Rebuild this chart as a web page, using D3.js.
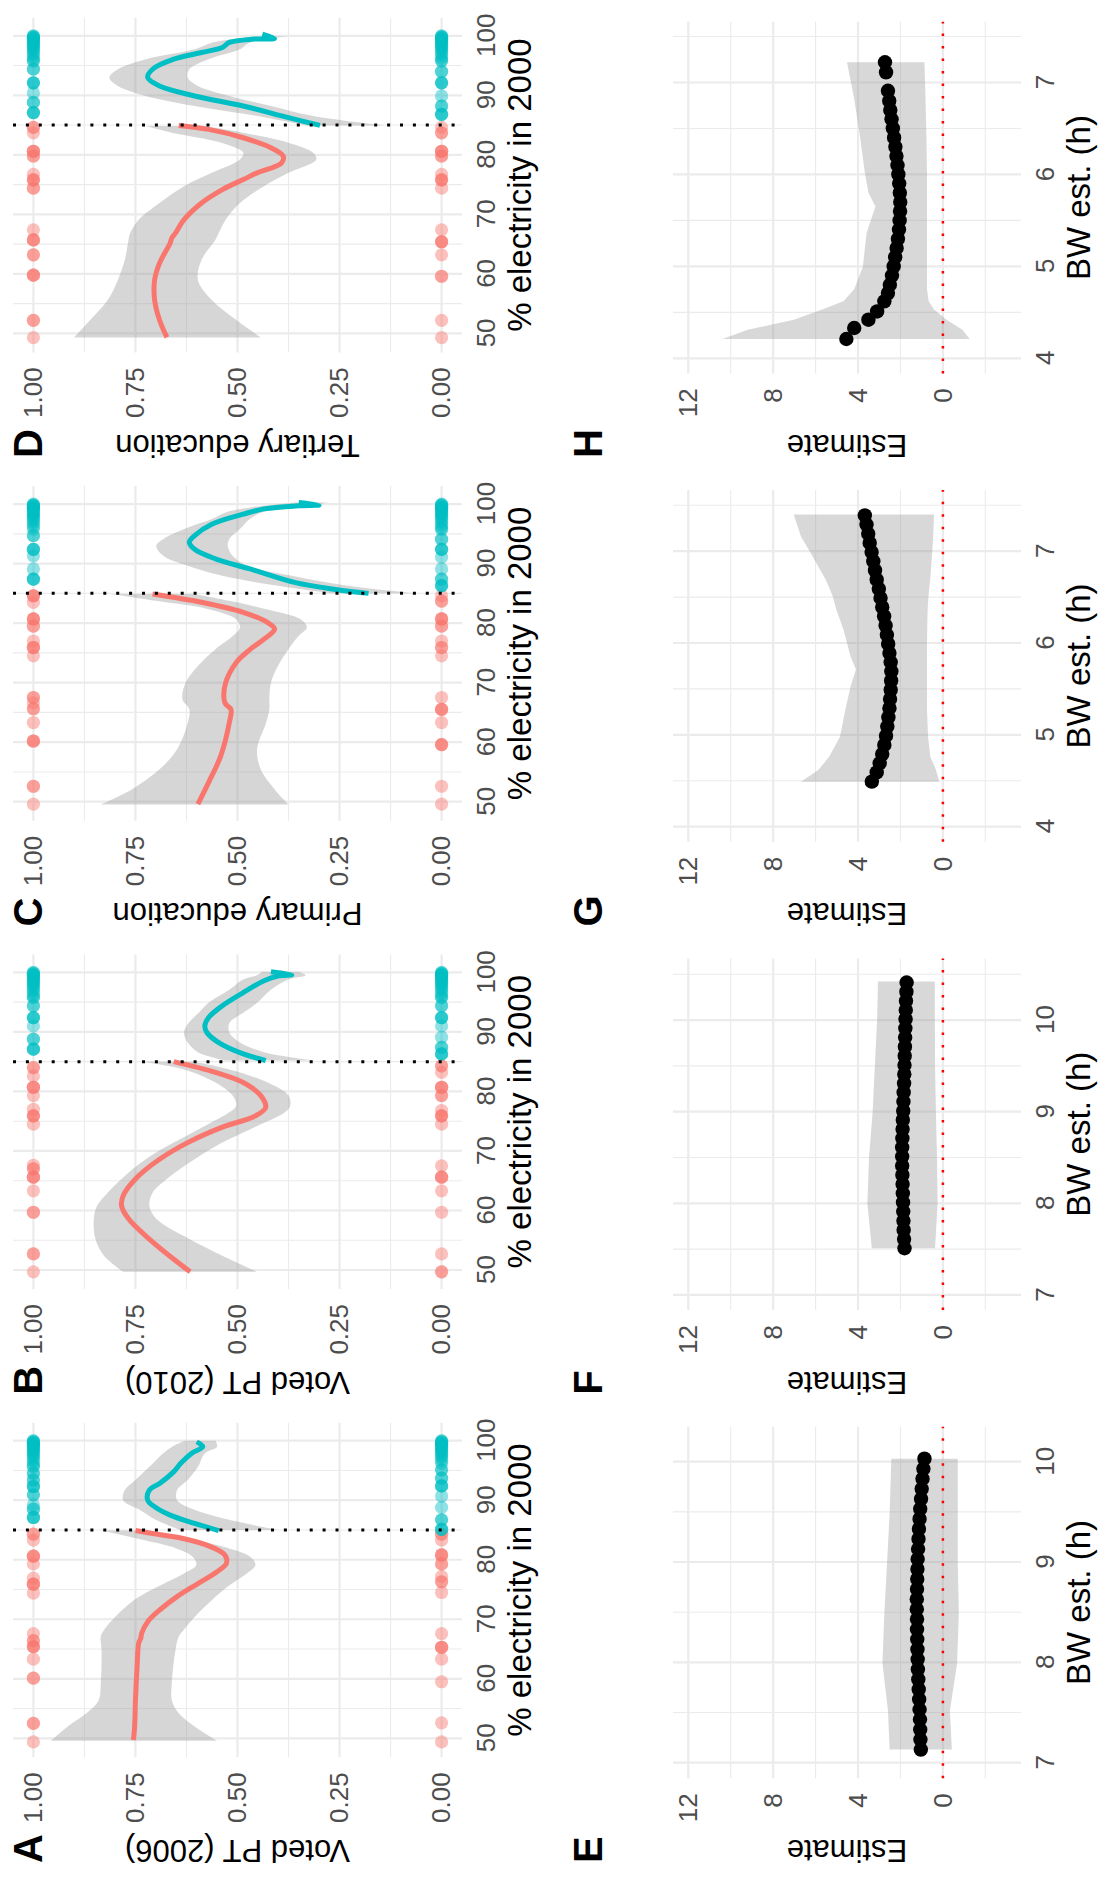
<!DOCTYPE html>
<html>
<head>
<meta charset="utf-8">
<script src="https://cdnjs.cloudflare.com/ajax/libs/d3/7.8.5/d3.min.js"></script>
<style>
  body { margin: 0; background: #fff; }
  svg { display: block; background: #fff; }
  svg text { font-family: "Liberation Sans", Arial, Helvetica, sans-serif; }
</style>
</head>
<body>
<div class="canvas"></div>
<script>
////////////////////////// DATA ///////////////////////////////
// top row: share voting / education around the 85% electricity cutoff
const cutoff = 85;
const rdTicks = [50, 60, 70, 80, 90, 100];
const rdMinor = [55, 65, 75, 85, 95];
const shareTicks = [0, 0.25, 0.5, 0.75, 1];
const shareMinor = [0.125, 0.375, 0.625, 0.875];

// municipalities with almost full coverage, present in every panel at 0 and 1
const tealTail = [96.2, 96.6, 97.0, 97.3, 97.6, 97.9, 98.1, 98.3, 98.5, 98.7, 98.9, 99.1, 99.3, 99.4, 99.5, 99.6, 99.7, 99.8, 99.9, 100.0];

const onesA = [49.4, 52.5, 52.5, 60.1, 60.1, 63.3, 65.4, 65.4, 65.4, 66.4, 66.4, 67.6, 74.4, 75.9, 75.9, 75.9, 76.9, 79.3, 80.6, 80.6, 80.6, 83.3, 84.3, 84.3, 87.1, 87.1, 87.1, 88.5, 88.5, 89.2, 90.9, 90.9, 92.3, 92.3, 92.3, 93.4, 93.4, 94.5, 94.5, 95.7, 95.7];
const zerosA = [49.4, 52.6, 59.5, 63.3, 65.3, 65.3, 65.3, 67.6, 74.5, 76.3, 76.3, 77.2, 79.3, 79.3, 80.8, 80.8, 80.8, 83.3, 84.3, 84.3, 85.1, 85.1, 85.1, 86.7, 86.7, 88.8, 90.7, 92.4, 92.4, 92.4, 93.7, 93.7, 95.1, 95.1];
const onesB = [49.7, 52.7, 52.7, 59.7, 59.7, 63.3, 65.6, 65.6, 65.6, 67.0, 67.0, 67.6, 74.5, 75.9, 75.9, 75.9, 77.0, 79.3, 80.7, 80.7, 80.7, 82.6, 84.0, 84.0, 87.1, 87.1, 87.1, 88.8, 88.8, 91.0, 92.4, 92.4, 92.4, 94.4, 94.4, 95.8, 95.8];
const zerosB = [49.7, 49.7, 52.7, 59.7, 63.3, 65.6, 65.6, 65.6, 67.5, 74.5, 75.9, 75.9, 75.9, 76.8, 79.3, 79.3, 80.7, 80.7, 80.7, 83.2, 84.3, 84.3, 86.3, 86.3, 86.3, 87.4, 87.4, 89.1, 91.0, 92.4, 92.4, 92.4, 94.4, 94.4, 95.8, 95.8];
const onesC = [49.6, 52.6, 52.6, 60.2, 60.2, 60.2, 63.3, 65.6, 65.6, 66.6, 67.5, 67.5, 74.5, 75.9, 75.9, 75.9, 77.0, 79.5, 79.5, 80.7, 80.7, 80.7, 83.5, 84.6, 84.6, 84.6, 87.4, 87.4, 87.4, 89.1, 91.3, 92.4, 92.4, 92.4, 94.7, 94.7, 95.8];
const zerosC = [49.6, 52.6, 59.6, 59.6, 59.6, 63.3, 65.5, 65.5, 65.5, 67.5, 74.5, 75.9, 75.9, 77.0, 79.5, 79.5, 80.7, 80.7, 80.7, 83.7, 83.7, 84.6, 86.3, 86.3, 86.3, 87.4, 87.4, 89.1, 91.1, 92.4, 92.4, 92.4, 94.1, 94.1, 95.8, 95.8];
const onesD = [49.3, 52.2, 52.2, 59.8, 59.8, 59.8, 63.2, 63.2, 65.7, 65.7, 65.7, 67.4, 74.4, 74.4, 75.8, 75.8, 75.8, 76.7, 79.8, 79.8, 80.6, 80.6, 80.6, 83.7, 84.6, 84.6, 87.1, 87.1, 87.1, 88.8, 88.8, 90.4, 92.1, 92.1, 92.1, 94.4, 94.4, 95.8, 95.8];
const zerosD = [49.3, 52.2, 59.6, 59.6, 63.2, 65.4, 65.4, 65.4, 67.4, 74.4, 75.8, 75.8, 75.8, 76.7, 79.8, 79.8, 80.6, 80.6, 80.6, 83.7, 83.7, 84.6, 86.8, 86.8, 86.8, 88.2, 88.2, 89.9, 92.1, 92.1, 92.1, 94.0, 94.0, 95.8, 95.8];

// smooth fits [x, fit] and bands [x, lower, upper]
const fitRedA = [[49.7,.755],[52.0,.752],[56.4,.750],[62.0,.746],[66.0,.742],[66.8,.737],[67.6,.735],[69.6,.720],[71.6,.690],[73.8,.648],[76.0,.597],[78.0,.550],[79.4,.527],[80.8,.531],[82.2,.566],[83.6,.636],[84.4,.708],[84.9,.750]];
const bandRedA = [[49.6,.55,.957],[52.0,.605,.916],[54.2,.644,.870],[56.4,.661,.840],[59.2,.661,.835],[64.8,.652,.833],[67.1,.644,.835],[68.2,.632,.827],[70.4,.605,.800],[73.2,.563,.754],[75.5,.524,.695],[77.7,.477,.631],[79.1,.456,.601],[80.5,.469,.610],[81.9,.520,.650],[83.3,.605,.730],[84.4,.69,.80],[84.9,.733,.835]];
const fitTealA = [[84.9,.546],[86.1,.605],[87.5,.665],[88.9,.703],[90.0,.720],[91.7,.716],[92.8,.691],[94.8,.656],[96.2,.639],[97.9,.612],[99.0,.585],[99.8,.600]];
const bandTealA = [[85.0,.40,.64],[86.7,.52,.70],[88.4,.605,.74],[90.0,.648,.78],[91.7,.648,.776],[93.4,.622,.75],[95.6,.597,.716],[97.9,.58,.682],[99.0,.55,.66],[100.0,.554,.63]];

const fitRedB = [[49.7,.616],[51.8,.656],[55.2,.716],[58.6,.767],[60.8,.784],[62.5,.780],[65.3,.750],[68.6,.691],[71.4,.622],[74.0,.537],[75.9,.456],[77.3,.431],[79.3,.443],[81.5,.486],[83.2,.554],[85.0,.656]];
const bandRedB = [[49.7,.452,.78],[52.4,.537,.827],[55.2,.618,.848],[58.6,.699,.852],[60.8,.716,.844],[63.0,.708,.818],[65.3,.673,.784],[68.6,.605,.725],[71.4,.537,.656],[74.2,.452,.580],[76.5,.384,.52],[77.6,.371,.503],[79.3,.375,.512],[81.5,.426,.554],[83.7,.52,.631],[85.0,.605,.733]];
const fitTealB = [[85.2,.431],[86.3,.486],[88.2,.546],[89.9,.575],[91.0,.580],[92.4,.571],[94.4,.537],[96.6,.486],[98.6,.435],[99.4,.401],[99.6,.367],[100.1,.418]];
const bandTealB = [[85.2,.311,.529],[86.6,.435,.597],[88.2,.494,.622],[89.9,.52,.631],[91.5,.52,.62],[93.2,.486,.595],[94.9,.452,.571],[97.1,.418,.52],[98.8,.375,.486],[99.5,.333,.452],[100.1,.35,.44]];

const fitRedC = [[49.6,.597],[53.2,.571],[57.7,.541],[63.3,.520],[65.5,.516],[66.4,.529],[67.2,.533],[70.0,.529],[73.4,.503],[75.6,.469],[77.3,.435],[79.0,.409],[80.1,.426],[81.8,.486],[83.5,.588],[84.9,.708]];
const bandRedC = [[49.55,.375,.835],[52.07,.409,.759],[55.44,.443,.691],[58.8,.452,.648],[63.28,.430,.622],[65.53,.422,.618],[67.21,.422,.635],[70.01,.418,.627],[72.81,.401,.597],[75.62,.375,.554],[77.86,.350,.511],[79.26,.330,.494],[80.66,.345,.503],[82.34,.430,.571],[83.74,.52,.699],[84.9,.605,.81]];
const fitTealC = [[85.0,.179],[85.7,.264],[86.8,.358],[89.1,.469],[90.8,.554],[92.4,.605],[93.6,.618],[94.7,.605],[96.6,.563],[98.3,.486],[99.2,.435],[99.72,.350],[99.83,.30],[100.28,.350]];
const bandTealC = [[85.03,.068,.273],[86.27,.23,.401],[87.95,.367,.537],[89.63,.477,.622],[91.31,.512,.682],[93.0,.524,.699],[94.11,.52,.682],[95.8,.494,.631],[97.48,.47,.563],[98.6,.44,.529],[99.44,.35,.469],[100.28,.277,.358]];

const fitRedD = [[49.33,.673],[52.25,.691],[55.62,.703],[58.99,.703],[61.80,.691],[65.17,.665],[66.01,.661],[66.85,.652],[69.10,.631],[71.91,.588],[74.16,.537],[75.84,.486],[76.97,.452],[78.65,.392],[79.78,.388],[81.18,.418],[82.87,.486],[84.27,.571],[84.94,.644]];
const bandRedD = [[49.33,.443,.90],[52.25,.503,.861],[55.62,.563,.818],[58.99,.597,.793],[62.36,.588,.776],[65.73,.554,.767],[66.85,.546,.763],[69.10,.529,.742],[71.91,.494,.691],[74.72,.435,.631],[76.97,.375,.563],[79.21,.307,.494],[80.34,.315,.486],[82.02,.375,.54],[83.71,.486,.66],[84.83,.58,.725]];
const fitTealD = [[84.94,.298],[86.24,.375],[88.20,.486],[89.89,.605],[91.57,.691],[92.98,.720],[94.38,.708],[96.07,.656],[97.19,.588],[98.03,.537],[98.88,.520],[99.44,.460],[99.55,.409],[100.28,.439]];
const bandTealD = [[84.94,.141,.333],[86.52,.315,.452],[88.20,.418,.605],[89.89,.52,.725],[91.57,.597,.793],[92.98,.622,.814],[94.38,.618,.793],[96.07,.571,.725],[97.75,.494,.605],[98.88,.469,.56],[99.89,.375,.452]];

// bottom row: estimate by bandwidth
const estTicks = [0, 4, 8, 12];
const estMinor = [-2, 2, 6, 10];

const bwE = [7.13, 7.23, 7.33, 7.43, 7.53, 7.63, 7.73, 7.83, 7.93, 8.03, 8.13, 8.23, 8.33, 8.43, 8.53, 8.63, 8.73, 8.83, 8.93, 9.03, 9.13, 9.23, 9.33, 9.43, 9.53, 9.63, 9.73, 9.83, 9.93, 10.03];
const estE = [1.04, 1.06, 1.07, 1.08, 1.10, 1.12, 1.14, 1.16, 1.18, 1.19, 1.20, 1.21, 1.22, 1.22, 1.23, 1.23, 1.22, 1.21, 1.20, 1.19, 1.17, 1.15, 1.13, 1.10, 1.07, 1.03, 1.00, 0.96, 0.92, 0.87];
const bandE = [[7.13,-0.42,2.51],[7.52,-0.33,2.59],[7.99,-0.67,2.85],[8.49,-0.75,2.76],[9.0,-0.70,2.63],[9.49,-0.70,2.51],[10.03,-0.70,2.43]];

const bwF = [7.51, 7.61, 7.71, 7.81, 7.91, 8.01, 8.11, 8.21, 8.31, 8.41, 8.51, 8.61, 8.71, 8.81, 8.91, 9.01, 9.11, 9.21, 9.31, 9.41, 9.51, 9.61, 9.71, 9.81, 9.91, 10.01, 10.11, 10.21, 10.31, 10.41];
const estF = [1.81, 1.83, 1.85, 1.86, 1.87, 1.88, 1.89, 1.90, 1.91, 1.92, 1.92, 1.92, 1.91, 1.90, 1.89, 1.87, 1.86, 1.85, 1.83, 1.82, 1.81, 1.80, 1.79, 1.78, 1.77, 1.76, 1.75, 1.74, 1.72, 1.71];
const bandF = [[7.51,0.37,3.35],[8.0,0.25,3.56],[8.51,0.28,3.48],[9.0,0.33,3.31],[9.49,0.37,3.21],[10.0,0.38,3.10],[10.42,0.38,3.06]];

const bwG = [4.49, 4.59, 4.69, 4.79, 4.89, 4.99, 5.09, 5.19, 5.29, 5.39, 5.49, 5.59, 5.69, 5.79, 5.89, 5.99, 6.09, 6.19, 6.29, 6.39, 6.49, 6.59, 6.69, 6.79, 6.89, 6.99, 7.09, 7.19, 7.29, 7.39];
const estG = [3.35, 3.12, 2.98, 2.86, 2.76, 2.68, 2.62, 2.57, 2.52, 2.49, 2.46, 2.44, 2.43, 2.46, 2.52, 2.58, 2.64, 2.70, 2.77, 2.86, 2.94, 3.02, 3.12, 3.20, 3.28, 3.36, 3.45, 3.52, 3.60, 3.68];
const bandG = [[4.49,0.17,6.69],[4.62,0.33,5.86],[4.76,0.59,5.36],[4.98,0.70,4.85],[5.27,0.75,4.60],[5.53,0.75,4.35],[5.71,0.75,4.10],[5.85,0.75,4.35],[6.0,0.75,4.52],[6.15,0.74,4.69],[6.36,0.72,5.02],[6.51,0.68,5.19],[6.69,0.60,5.52],[7.0,0.50,6.28],[7.16,0.46,6.69],[7.40,0.42,7.03]];

const bwH = [4.21, 4.33, 4.42, 4.51, 4.62, 4.71, 4.80, 4.90, 5.00, 5.10, 5.20, 5.30, 5.40, 5.50, 5.60, 5.70, 5.80, 5.90, 6.00, 6.10, 6.20, 6.30, 6.40, 6.50, 6.60, 6.70, 6.80, 6.91, 7.11, 7.22];
const estH = [4.55, 4.18, 3.51, 3.10, 2.76, 2.59, 2.50, 2.40, 2.32, 2.25, 2.18, 2.12, 2.07, 2.04, 2.02, 2.01, 2.03, 2.06, 2.10, 2.14, 2.19, 2.24, 2.30, 2.36, 2.42, 2.48, 2.53, 2.59, 2.68, 2.73];
const bandH = [[4.21,-1.26,10.38],[4.31,-0.92,9.20],[4.42,-0.17,7.03],[4.53,0.42,5.69],[4.62,0.67,4.69],[4.75,0.75,4.18],[5.0,0.75,3.77],[5.36,0.75,3.60],[5.65,0.75,3.18],[5.8,0.75,3.51],[6.02,0.75,3.68],[6.45,0.78,3.93],[6.82,0.82,4.18],[7.22,0.87,4.52]];

////////////////////////// LAYOUT ///////////////////////////////
// the figure is drawn upright (1881 x 1102) and then turned a quarter to the left
const figW = 1881, figH = 1102;
const colStep = 468.3;
const red = '#F8766D', teal = '#00BFC4';
const gridCol = '#EBEBEB';

const svg = d3.select('.canvas')
  .append('svg')
  .attr('width', figH)
  .attr('height', figW);

const fig = svg.append('g')
  .attr('transform', `translate(0,${figW}) rotate(-90)`);

const grid = (g, x, y, w, h, xMaj, xMin, yMaj, yMin) => {
  const lines = [
    ...xMin.map(v => ({ v, dir: 'x', size: 1.1 })),
    ...yMin.map(v => ({ v, dir: 'y', size: 1.1 })),
    ...xMaj.map(v => ({ v, dir: 'x', size: 2.2 })),
    ...yMaj.map(v => ({ v, dir: 'y', size: 2.2 }))
  ];
  g.append('g').selectAll('line')
    .data(lines)
    .join('line')
    .attr('x1', d => d.dir === 'x' ? x(d.v) : 0)
    .attr('x2', d => d.dir === 'x' ? x(d.v) : w)
    .attr('y1', d => d.dir === 'y' ? y(d.v) : 0)
    .attr('y2', d => d.dir === 'y' ? y(d.v) : h)
    .attr('stroke', gridCol)
    .attr('stroke-width', d => d.size);
};

const axes = (g, x, y, h, xTicks, yTicks, xFmt, yFmt) => {
  const ax = g.append('g')
    .attr('transform', `translate(0,${h})`)
    .call(d3.axisBottom(x).tickValues(xTicks).tickFormat(xFmt).tickSize(0).tickPadding(15));
  const ay = g.append('g')
    .call(d3.axisLeft(y).tickValues(yTicks).tickFormat(yFmt).tickSize(0).tickPadding(15));
  [ax, ay].forEach(a => {
    a.select('.domain').remove();
    a.selectAll('.tick line').remove();
    a.selectAll('text').attr('font-size', 26).attr('fill', '#4D4D4D');
  });
};

// yOff: distance from the panel edge to the baseline of the rotated title
const titles = (g, yOff, w, h, xTitle, yTitle) => {
  g.append('text')
    .attr('x', w / 2).attr('y', h + 69)
    .attr('text-anchor', 'middle')
    .attr('font-size', 33)
    .attr('fill', '#000')
    .text(xTitle);
  g.append('text')
    .attr('transform', `translate(${-yOff},${h / 2}) rotate(-90)`)
    .attr('text-anchor', 'middle')
    .attr('font-size', 31)
    .attr('fill', '#000')
    .text(yTitle);
};

const tag = (letter, x, y) => {
  fig.append('text')
    .attr('x', x).attr('y', y)
    .attr('font-size', 40)
    .attr('font-weight', 'bold')
    .attr('fill', '#000')
    .text(letter);
};

const clip = (g, id, w, h) => {
  g.append('clipPath').attr('id', id)
    .append('rect').attr('width', w).attr('height', h);
  return `url(#${id})`;
};

////////////////////////// TOP ROW ///////////////////////////////
const rdPanels = [
  { letter: 'A', title: 'Voted PT (2006)', ones: onesA, zeros: zerosA, fits: [[fitRedA, bandRedA, red], [fitTealA, bandTealA, teal]] },
  { letter: 'B', title: 'Voted PT (2010)', ones: onesB, zeros: zerosB, fits: [[fitRedB, bandRedB, red], [fitTealB, bandTealB, teal]] },
  { letter: 'C', title: 'Primary education', ones: onesC, zeros: zerosC, fits: [[fitRedC, bandRedC, red], [fitTealC, bandTealC, teal]] },
  { letter: 'D', title: 'Tertiary education', ones: onesD, zeros: zerosD, fits: [[fitRedD, bandRedD, red], [fitTealD, bandTealD, teal]] }
];

rdPanels.forEach((p, i) => {
  const left = 123.7 + colStep * i, top = 13, w = 334.6, h = 449;
  const g = fig.append('g').attr('transform', `translate(${left},${top})`);
  const x = d3.scaleLinear().domain([46.81, 103.02]).range([0, w]);
  const y = d3.scaleLinear().domain([-0.05, 1.05]).range([h, 0]);
  const cp = clip(g, `clip-rd-${i}`, w, h);

  grid(g, x, y, w, h, rdTicks, rdMinor, shareTicks, shareMinor);

  const pts = p.ones.concat(tealTail).map(v => ({ x: v, y: 1 }))
    .concat(p.zeros.concat(tealTail).map(v => ({ x: v, y: 0 })));
  g.append('g').selectAll('circle')
    .data(pts)
    .join('circle')
    .attr('cx', d => x(d.x))
    .attr('cy', d => y(d.y))
    .attr('r', 6.6)
    .attr('fill', d => d.x < cutoff ? red : teal)
    .attr('fill-opacity', 0.45);

  const band = d3.area()
    .x(d => x(d[0])).y0(d => y(d[1])).y1(d => y(d[2]))
    .curve(d3.curveCatmullRom);
  const fit = d3.line()
    .x(d => x(d[0])).y(d => y(d[1]))
    .curve(d3.curveCatmullRom);

  const smooth = g.append('g').attr('clip-path', cp);
  p.fits.forEach(([f, b]) => {
    smooth.append('path').attr('d', band(b))
      .attr('fill', '#999999').attr('fill-opacity', 0.4);
  });
  p.fits.forEach(([f, b, col]) => {
    smooth.append('path').attr('d', fit(f))
      .attr('fill', 'none').attr('stroke', col)
      .attr('stroke-width', 5).attr('stroke-linecap', 'butt');
  });

  g.append('line')
    .attr('x1', x(cutoff)).attr('x2', x(cutoff))
    .attr('y1', 0).attr('y2', h)
    .attr('stroke', '#000').attr('stroke-width', 3)
    .attr('stroke-dasharray', '3 9.9');

  axes(g, x, y, h, rdTicks, shareTicks, d3.format('d'), d3.format('.2f'));
  titles(g, 82.7, w, h, '% electricity in 2000', p.title);
  tag(p.letter, 18 + colStep * i, 41.7);
});

////////////////////////// BOTTOM ROW ///////////////////////////////
const bwPanels = [
  { letter: 'E', dom: [6.844, 10.349], ticks: [7, 8, 9, 10], minor: [7.5, 8.5, 9.5], bw: bwE, est: estE, band: bandE },
  { letter: 'F', dom: [6.836, 10.673], ticks: [7, 8, 9, 10], minor: [7.5, 8.5, 9.5, 10.5], bw: bwF, est: estF, band: bandF },
  { letter: 'G', dom: [3.836, 7.665], ticks: [4, 5, 6, 7], minor: [4.5, 5.5, 6.5, 7.5], bw: bwG, est: estG, band: bandG },
  { letter: 'H', dom: [3.836, 7.66], ticks: [4, 5, 6, 7], minor: [4.5, 5.5, 6.5, 7.5], bw: bwH, est: estH, band: bandH }
];

bwPanels.forEach((p, j) => {
  const left = 102.7 + colStep * j, top = 673, w = 351.6, h = 348;
  const g = fig.append('g').attr('transform', `translate(${left},${top})`);
  const x = d3.scaleLinear().domain(p.dom).range([0, w]);
  const y = d3.scaleLinear().domain([-3.68, 12.72]).range([h, 0]);
  const cp = clip(g, `clip-bw-${j}`, w, h);

  grid(g, x, y, w, h, p.ticks, p.minor, estTicks, estMinor);

  g.append('path')
    .attr('clip-path', cp)
    .attr('d', d3.area().x(d => x(d[0])).y0(d => y(d[1])).y1(d => y(d[2]))(p.band))
    .attr('fill', '#999999').attr('fill-opacity', 0.38);

  g.append('line')
    .attr('x1', 0).attr('x2', w)
    .attr('y1', y(0)).attr('y2', y(0))
    .attr('stroke', '#FF0000').attr('stroke-width', 2.5)
    .attr('stroke-dasharray', '2.5 10');

  g.append('g').selectAll('circle')
    .data(p.bw.map((b, k) => ({ b, e: p.est[k] })))
    .join('circle')
    .attr('cx', d => x(d.b))
    .attr('cy', d => y(d.e))
    .attr('r', 7.2)
    .attr('fill', '#000');

  axes(g, x, y, h, p.ticks, estTicks, d3.format('d'), d3.format('d'));
  titles(g, 61.7, w, h, 'BW est. (h)', 'Estimate');
  tag(p.letter, 18 + colStep * j, 601.8);
});
</script>
</body>
</html>
